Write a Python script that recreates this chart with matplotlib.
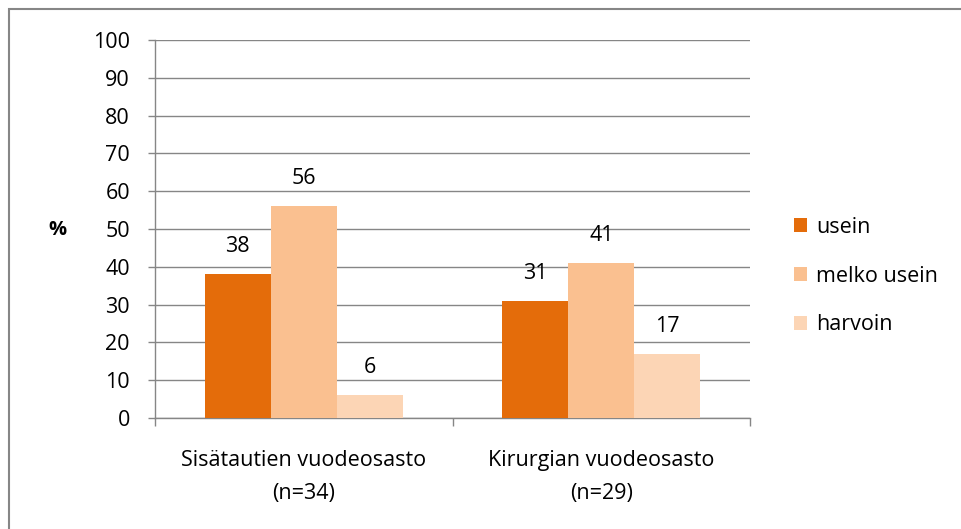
import matplotlib
matplotlib.use("Agg")
import matplotlib.pyplot as plt
from matplotlib.patches import Rectangle
import numpy as np

categories = ["Sisätautien vuodeosasto\n(n=34)", "Kirurgian vuodeosasto\n(n=29)"]
series_names = ["usein", "melko usein", "harvoin"]
usein = [38, 31]
melko_usein = [56, 41]
harvoin = [6, 17]
colors = ["#E46C0A", "#FAC090", "#FCD5B5"]
yticks = list(range(0, 101, 10))

plt.rcParams['font.family'] = ['Open Sans', 'DejaVu Sans']
FS = 15.5
W, H = 961, 529
fig = plt.figure(figsize=(W/100, H/100), dpi=100)
ax = fig.add_axes([155/W, 1-418/H, (750-155)/W, (418-40)/H])

grid_c = "#868686"
x = np.arange(len(categories))
bw = 1/4.5
data = [usein, melko_usein, harvoin]
for i, (vals, c, name) in enumerate(zip(data, colors, series_names)):
    pos = x + (i-1)*bw
    ax.bar(pos, vals, width=bw, color=c, label=name, zorder=3)
    for p, v in zip(pos, vals):
        ax.text(p, v + 7.3, f"{v}", ha="center", va="center", fontsize=FS, color="#000000", zorder=4)

ax.set_xlim(-0.5, 1.5)
ax.set_ylim(0, 100)
ax.set_yticks(yticks)
ax.set_yticklabels([str(t) for t in yticks], fontsize=FS)
ax.yaxis.grid(True, color=grid_c, linewidth=1, zorder=0)
ax.set_axisbelow(True)
ax.set_xticks([-0.5, 0.5, 1.5])
ax.set_xticklabels([])
ax.set_xticks([0, 1], minor=True)
ax.set_xticklabels(categories, minor=True, fontsize=FS, linespacing=1.75)
ax.tick_params(axis='x', which='minor', length=0, pad=23)
ax.tick_params(axis='x', which='major', length=6, color=grid_c, width=1)
ax.tick_params(axis='y', length=5, color=grid_c, width=1, pad=13)
for s in ["top", "right"]:
    ax.spines[s].set_visible(False)
for s in ["left", "bottom"]:
    ax.spines[s].set_color(grid_c)
    ax.spines[s].set_linewidth(1)

fig.text(57/W, 1-230/H, "%", fontsize=FS-1, fontweight="bold", ha="center", va="center")

leg = fig.legend(loc="upper left", bbox_to_anchor=(783/W, 1-206/H), frameon=False,
                 fontsize=FS, handlelength=0.6, handleheight=0.6, labelspacing=1.29,
                 handletextpad=0.45, borderpad=0)

# figure border
fig.patches.append(Rectangle((9/W, -0.01), 1.02, 1-9.5/H+0.01, transform=fig.transFigure,
                             fill=False, edgecolor=grid_c, linewidth=1.5))

fig.savefig("out.png", dpi=100)
